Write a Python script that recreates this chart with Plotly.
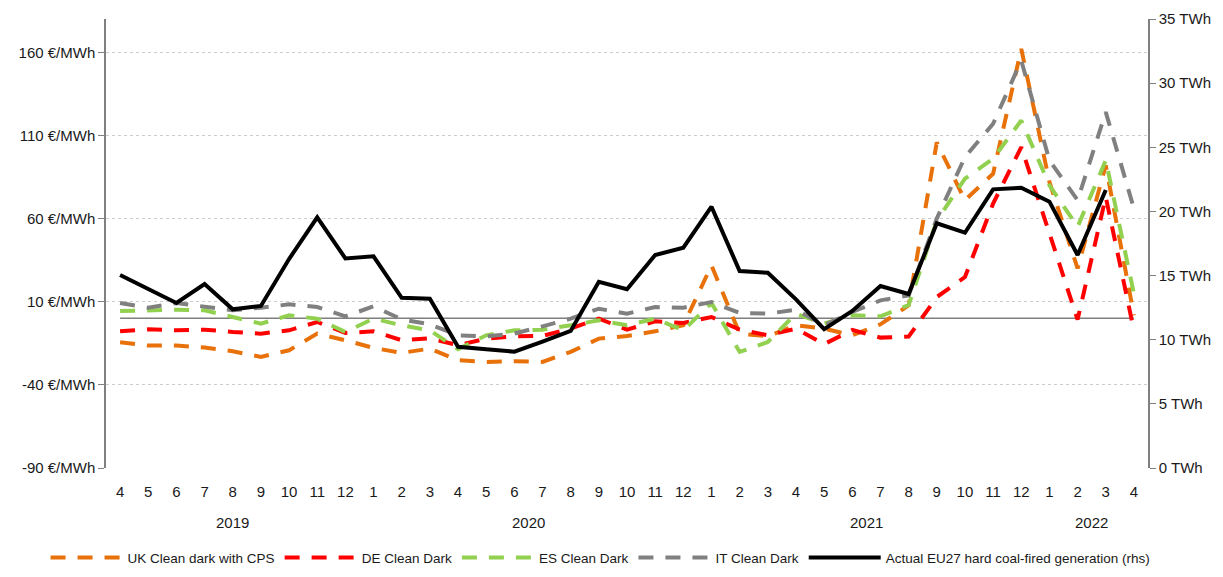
import plotly.graph_objects as go

months = ['4', '5', '6', '7', '8', '9', '10', '11', '12',
          '1', '2', '3', '4', '5', '6', '7', '8', '9', '10', '11', '12',
          '1', '2', '3', '4', '5', '6', '7', '8', '9', '10', '11', '12',
          '1', '2', '3', '4']
years = ['2019', '2020', '2021', '2022']
year_centers = [4, 14.5, 26.5, 34.5]

uk_cps = [-14.4, -16.4, -16.4, -17.6, -19.8, -23.2, -19.2, -9.2, -13.2, -17.8, -20.8, -18.2,
          -25.2, -26.2, -25.8, -26.2, -20.2, -12.2, -10.6, -7.8, -4.2, 31.8, -9.2, -10.8,
          -4.2, -6.2, -10.2, -3.6, 7.8, 105.8, 71.0, 87.0, 162.0, 82.0, 30.0, 92.0, 1.8]
de_dark = [-7.8, -6.6, -7.2, -6.8, -8.2, -9.2, -7.2, -2.2, -8.8, -7.8, -13.2, -12.0,
           -16.2, -12.2, -10.8, -10.6, -6.2, -0.2, -6.8, -1.8, -2.8, 0.8, -6.8, -10.2,
           -6.2, -15.5, -7.0, -11.6, -11.0, 12.8, 24.8, 69.0, 103.0, 51.0, -0.8, 73.0, -7.2]
es_dark = [4.4, 4.8, 5.2, 4.8, 0.8, -3.2, 1.8, -0.2, -8.2, -0.2, -4.2, -7.2,
           -18.6, -10.2, -7.2, -6.8, -4.2, -1.2, -4.2, -0.2, -7.2, 9.2, -20.2, -14.2,
           2.8, -3.2, 1.8, 1.2, 8.0, 58.8, 84.0, 96.0, 119.0, 80.0, 55.0, 95.0, 14.8]
it_dark = [9.2, 6.4, 9.2, 7.2, 4.8, 6.4, 8.4, 6.8, 1.2, 7.2, -0.6, -3.6,
           -10.2, -10.8, -9.2, -4.8, -0.2, 5.8, 2.8, 6.8, 6.4, 9.8, 3.2, 2.8,
           5.2, -4.2, 3.8, 10.8, 13.8, 60.0, 97.0, 117.0, 155.0, 95.0, 71.0, 124.0, 66.0]
coal_twh = [15.04, 13.95, 12.86, 14.34, 12.37, 12.63, 16.29, 19.54, 16.34, 16.50, 13.27, 13.20,
            9.45, 9.25, 9.07, 9.85, 10.68, 14.52, 13.93, 16.60, 17.17, 20.37, 15.35, 15.22,
            13.15, 10.83, 12.24, 14.19, 13.56, 19.07, 18.34, 21.72, 21.85, 20.76, 16.60, 21.67, None]
zero_line = [0] * len(months)

left_ticks = [-90, -40, 10, 60, 110, 160]
right_ticks = [0, 5, 10, 15, 20, 25, 30, 35]

x = list(range(len(months)))
FONT = 'Liberation Sans'

fig = go.Figure()

fig.add_trace(go.Scatter(x=x, y=zero_line, mode='lines', showlegend=False, hoverinfo='skip',
                         line=dict(color='#7f7f7f', width=1.5)))

dash_pat = '15px,12px'
series = [
    ('UK Clean dark with CPS', uk_cps, '#E8710A'),
    ('DE Clean Dark', de_dark, '#FF0000'),
    ('ES Clean Dark', es_dark, '#92D050'),
    ('IT Clean Dark', it_dark, '#808080'),
]
for name, vals, col in series:
    fig.add_trace(go.Scatter(x=x, y=vals, mode='lines', name=name,
                             line=dict(color=col, width=4, dash=dash_pat)))

fig.add_trace(go.Scatter(x=x, y=coal_twh, mode='lines', name='Actual EU27 hard coal-fired generation (rhs)',
                         yaxis='y2', line=dict(color='#000000', width=4)))

for yr, c in zip(years, year_centers):
    fig.add_annotation(x=c, y=0, xref='x', yref='paper', text=yr, showarrow=False,
                       yshift=-65, font=dict(size=15, color='#1a1a1a', family=FONT))

fig.update_layout(
    width=1215, height=577,
    margin=dict(l=98, r=75, t=11, b=117),
    paper_bgcolor='white', plot_bgcolor='white',
    font=dict(family=FONT, size=15, color='#1a1a1a'),
    xaxis=dict(range=[-0.5, 36.5], tickmode='array', tickvals=x, ticktext=months,
               showgrid=False, showline=False, ticks='', zeroline=False, automargin=False,
               ticklabelstandoff=13, tickfont=dict(size=15)),
    yaxis=dict(range=[-90, 180], tickmode='array', tickvals=left_ticks,
               ticktext=[f'{v} €/MWh' for v in left_ticks], automargin=False,
               showgrid=True, gridcolor='#cccccc', griddash='dot', gridwidth=1,
               showline=True, linecolor='#808080', linewidth=1.5,
               ticks='outside', ticklen=6, tickcolor='#808080', zeroline=False),
    yaxis2=dict(range=[0, 35], overlaying='y', side='right', tickmode='array',
                tickvals=right_ticks, ticktext=[f'{v} TWh' for v in right_ticks],
                automargin=False,
                showgrid=False, showline=True, linecolor='#808080', linewidth=1.5,
                ticks='outside', ticklen=6, tickcolor='#808080', zeroline=False),
    legend=dict(orientation='h', x=-0.058, xanchor='left', y=-0.2, yanchor='middle',
                font=dict(family=FONT, size=13.5, color='#1a1a1a'),
                itemwidth=72, bgcolor='rgba(0,0,0,0)'),
    showlegend=True,
)

fig.write_html('out.html')
